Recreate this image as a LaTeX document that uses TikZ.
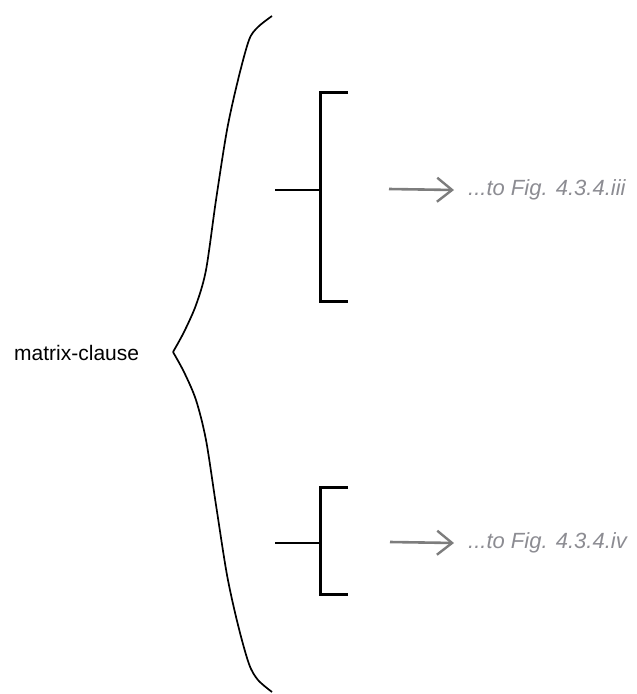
\documentclass[tikz,border=0pt]{standalone}
\usepackage{fontspec}
\setmainfont{Liberation Sans}
\usepackage{tikz}
\usetikzlibrary{arrows.meta, positioning}

\definecolor{arrowgray}{RGB}{125,125,125}
\definecolor{textgray}{RGB}{140,140,146}

\begin{document}
\begin{tikzpicture}[x=1pt, y=-1pt, >={Straight Barb[length=15pt, width=24pt, line width=2.4pt]},
    bar/.style={line width=3pt},
    stem/.style={line width=2.4pt},
    link/.style={->, draw=arrowgray, line width=2.6pt},
    target/.style={anchor=west, inner sep=0pt, text=textgray,
        font=\fontsize{22}{26}\selectfont\itshape}]
    \useasboundingbox (0,0) rectangle (637,694);

    % Nhan ben trai
    \node[anchor=west, inner sep=0pt, font=\fontsize{21}{25}\selectfont]
        (clause) at (14,353) {matrix-clause};

    % Dau ngoac lon
    \draw[line width=1.7pt, line join=round] plot[smooth, tension=0.5] coordinates {
        (272,16) (258,27) (249,40) (238,80) (227,130) (216,200) (206,270)
        (196,305) (184,332) (173,352)};
    \draw[line width=1.7pt, line join=round] plot[smooth, tension=0.5] coordinates {
        (173,352) (184,372) (196,400) (206,440) (216,505) (227,575)
        (238,625) (249,664) (258,680) (272,692)};

    % Ngoac tren
    \coordinate (s1) at (275,190);
    \coordinate (b1) at (320,190);
    \draw[stem] (s1) -- (b1);
    \draw[bar] (348,92) -- (320,92) -- (320,301) -- (348,301);
    \coordinate (a1) at (389,189);
    \node[target] (fig3) at (468,190) {...to Fig. 4.3.4.iii};
    \draw[link] (a1) -- ([xshift=-14pt]fig3.west);

    % Ngoac duoi
    \coordinate (s2) at (275,543);
    \coordinate (b2) at (320,543);
    \draw[stem] (s2) -- (b2);
    \draw[bar] (348,487) -- (320,487) -- (320,594) -- (348,594);
    \coordinate (a2) at (390,542);
    \node[target] (fig4) at (468,543) {...to Fig. 4.3.4.iv};
    \draw[link] (a2) -- ([xshift=-14pt]fig4.west);

\end{tikzpicture}
\end{document}
